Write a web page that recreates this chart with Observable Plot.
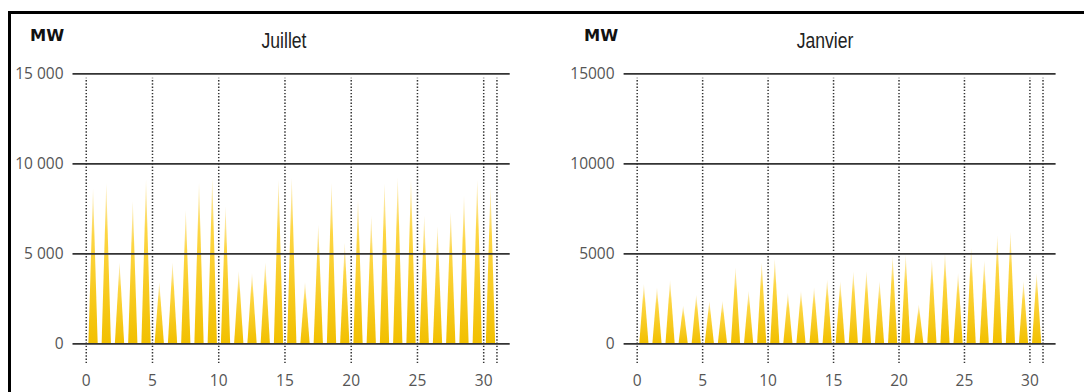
<!DOCTYPE html>
<html><head><meta charset="utf-8">
<script src="https://cdn.jsdelivr.net/npm/d3@7"></script>
<script src="https://cdn.jsdelivr.net/npm/@observablehq/plot@0.6"></script>
<style>
html,body{margin:0;padding:0;background:#fff}
body{width:1084px;height:392px;overflow:hidden;position:relative;font-family:"Open Sans",sans-serif}
.frame{position:absolute;left:8px;top:11px;right:-10px;bottom:-10px;border-top:3px solid #000;border-left:3px solid #000;pointer-events:none}
.panel{position:absolute;top:0}
.title{position:absolute;font-family:"Liberation Sans",Arial,sans-serif;font-size:22px;line-height:22px;color:#222;transform:translateX(-50%) scaleX(0.8);white-space:nowrap}
.unit{position:absolute;font-family:"DejaVu Sans",sans-serif;font-weight:bold;font-size:15.5px;line-height:15.5px;color:#111;transform-origin:left center;transform:scaleX(1.05)}
</style></head><body>
<div class="frame"></div>
<div id="left" class="panel" style="left:0"></div>
<div id="right" class="panel" style="left:542px"></div>
<div class="unit" style="left:30px;top:29px">MW</div>
<div class="unit" style="left:584px;top:29px">MW</div>
<div class="title" style="left:284px;top:30px">Juillet</div>
<div class="title" style="left:825px;top:30px">Janvier</div>
<script>
// Daily peak solar production (MW), day 0..30
const julyPeaks = [8600, 8900, 4500, 7900, 9100, 3400, 4500, 7400, 8900, 9200,
  7600, 4000, 3900, 4500, 9100, 9200, 3400, 6600, 8900, 5600,
  8000, 7100, 8900, 9200, 9100, 7100, 6500, 7300, 8200, 9100, 8700];
const januaryPeaks = [3300, 3100, 3500, 2100, 2700, 2350, 2350, 4200, 2900, 4500,
  4700, 2800, 2900, 3100, 3550, 3450, 4000, 4000, 3450, 4850,
  4900, 2150, 4650, 5000, 3900, 5300, 4600, 6000, 6200, 3450, 3900];
const yTicks = [0, 5000, 10000, 15000];
const xLabels = [0, 5, 10, 15, 20, 25, 30];
const xLines = [0, 5, 10, 15, 20, 25, 30, 31];

function spikes(peaks) {
  return peaks.flatMap((v, d) => [
    {day: d, x: d + 0.2, y: 0},
    {day: d, x: d + 0.55, y: v},
    {day: d, x: d + 0.9, y: 0}
  ]);
}

function panel(peaks, gradId, fmt, ml, mr) {
  const svg = Plot.plot({
    width: 542, height: 392,
    marginLeft: ml, marginRight: mr, marginTop: 73.3, marginBottom: 48.7,
    x: {domain: [-1, 32]},
    y: {domain: [0, 15000]},
    style: {fontFamily: "'Open Sans', sans-serif", fontSize: "15.5px", color: "#555", background: "transparent", overflow: "visible"},
    marks: [
      Plot.areaY(spikes(peaks), {x: "x", y: "y", z: "day", fill: `url(#${gradId})`}),
      Plot.ruleY(yTicks, {y: d => d, stroke: "#333", strokeWidth: 1.8}),
      Plot.ruleX(xLines, {x: d => d, y1: -1100, y2: 14750, stroke: "#333", strokeWidth: 1.5, strokeDasharray: "1.4,1.8"}),
      Plot.axisY(yTicks, {tickSize: 0, tickPadding: 9.5, tickFormat: fmt, fill: "#555", label: null}),
      Plot.axisX(xLabels, {tickSize: 0, tickPadding: 31, tickFormat: d => String(d), fill: "#555", label: null})
    ]
  });
  const defs = d3.select(svg).insert("defs", ":first-child");
  const g = defs.append("linearGradient").attr("id", gradId)
    .attr("x1", 0).attr("y1", 0).attr("x2", 0).attr("y2", 1);
  g.append("stop").attr("offset", "0%").attr("stop-color", "#f9d870").attr("stop-opacity", 0.4);
  g.append("stop").attr("offset", "30%").attr("stop-color", "#fdd43a").attr("stop-opacity", 0.95);
  g.append("stop").attr("offset", "100%").attr("stop-color", "#f2c000").attr("stop-opacity", 1);
  return svg;
}

const fmtSpace = d => d3.format(",")(d).replace(/,/g, " ");
const fmtPlain = d => String(d);
document.getElementById("left").appendChild(panel(julyPeaks, "gradL", fmtSpace, 72.5, 32.3));
document.getElementById("right").appendChild(panel(januaryPeaks, "gradR", fmtPlain, 81.6, 28.4));
</script>
</body></html>
